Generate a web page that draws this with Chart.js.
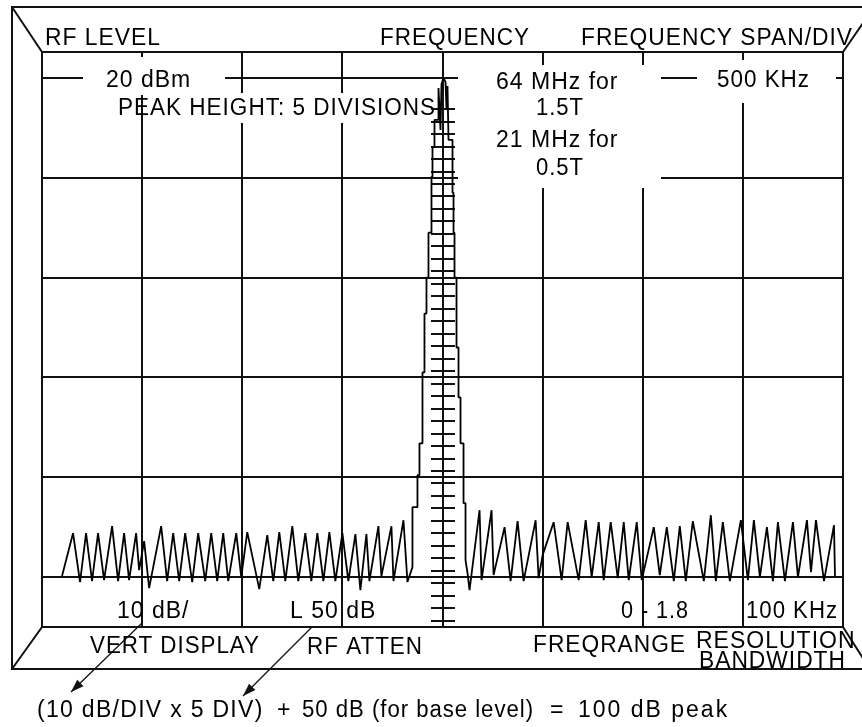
<!DOCTYPE html>
<html>
<head>
<meta charset="utf-8">
<title>Spectrum analyzer display</title>
<script src="https://cdn.jsdelivr.net/npm/chart.js@4.4.1/dist/chart.umd.min.js"></script>
<style>
    html, body { margin: 0; padding: 0; background: #fff; }
    #wrap { width: 862px; height: 727px; }
</style>
</head>
<body>
<div id="wrap"><canvas id="spectrum" width="862" height="727"></canvas></div>
<script>
// Trace: [offset from centre in kHz (500 kHz/div), level above base in dB (10 dB/div)]
const leftNoise = [
    [-1900, 0.1], [-1845, 4.4], [-1810, -0.5], [-1780, 4.4], [-1750, -0.4], [-1720, 4.4], [-1690, -0.3],
    [-1650, 5.1], [-1620, -0.4], [-1590, 4.4], [-1565, -0.3], [-1530, 4.4], [-1515, 0.7], [-1490, 3.6],
    [-1465, -1.1], [-1405, 5.1], [-1375, -0.4], [-1345, 4.4], [-1315, -0.4], [-1285, 4.4], [-1250, -0.5],
    [-1220, 4.4], [-1185, -0.4], [-1155, 4.4], [-1125, -0.4], [-1095, 4.4], [-1070, -0.4], [-1030, 4.4],
    [-1005, 0], [-975, 4.5], [-915, -1.2], [-875, 4.2], [-845, -0.4], [-815, 4.5], [-785, -0.4],
    [-750, 5.1], [-720, -0.4], [-685, 4.4], [-655, -0.4], [-625, 4.4], [-595, -0.4], [-565, 4.5],
    [-535, -0.4], [-500, 4.4], [-470, -0.4], [-435, 4.3], [-410, -1.3], [-380, 4.3], [-365, -0.4],
    [-320, 5.1], [-305, 0.1], [-255, 5.1], [-245, -0.4], [-195, 5.7], [-175, -0.5], [-150, 1.0]
];
const carrierPeak = [
    [-150, 7.0], [-125, 7.0], [-125, 10.2], [-115, 10.2], [-115, 13.4], [-100, 13.4], [-100, 20.5],
    [-90, 20.5], [-90, 26.4], [-80, 26.4], [-80, 30.0], [-70, 30.0], [-70, 34.5], [-55, 34.5],
    [-55, 40.1], [-50, 40.1], [-50, 43.1], [-40, 43.1], [-40, 45.8], [-20, 45.8], [-20, 49.0],
    [-10, 44.8], [-5, 49.4], [5, 50.0], [15, 49.6], [20, 46.8], [25, 49.2], [30, 43.8], [50, 43.8],
    [50, 38.5], [55, 38.5], [55, 34.5], [60, 34.5], [60, 30.0], [70, 30.0], [70, 23.0], [80, 23.0],
    [80, 18.0], [90, 18.0], [90, 13.4], [105, 13.4], [105, 7.4], [115, 7.4], [115, 1.7], [125, 0.4],
    [135, -1.3]
];
const rightNoise = [
    [185, 6.7], [195, -0.3], [245, 6.7], [255, 0.2], [310, 5.0], [340, -0.4], [375, 5.6], [405, -0.4],
    [465, 5.7], [480, -0.1], [500, 2.2], [555, 5.5], [595, -0.3], [625, 5.5], [680, -0.3], [715, 5.7],
    [745, 0], [780, 5.5], [805, -0.3], [840, 5.5], [875, -0.1], [905, 5.5], [930, -0.3], [970, 5.5],
    [995, -0.3], [1055, 5.0], [1085, 0.2], [1120, 5.0], [1155, -0.4], [1185, 5.1], [1215, -0.4],
    [1250, 5.6], [1305, -0.4], [1340, 6.2], [1365, -0.4], [1400, 5.5], [1435, -0.4], [1490, 5.7],
    [1525, -0.3], [1555, 5.7], [1585, 0], [1620, 5.0], [1650, -0.4], [1675, 5.5], [1710, -0.4],
    [1750, 5.5], [1775, 0], [1820, 5.7], [1840, 0.5], [1865, 5.7], [1905, -0.4], [1955, 5.2], [1960, 0]
];

// graticule: 8 horizontal divisions, 5 vertical divisions from base line to reference line
const freqTicks = [-2000, -1500, -1000, -500, 0, 500, 1000, 1500, 2000];
const levelTicks = [-5, 0, 10, 20, 30, 40, 50, 52.6];

const ink = '#111';
const font = '23px "Liberation Sans", Arial, sans-serif';

// white patches where the screen text breaks the graticule lines
const maskBoxes = [
    [83, 57, 142, 38],
    [146, 93, 292, 30],
    [458, 65, 203, 123],
    [697, 60, 139, 43]
];

// [text, x, baseline, max width, letter spacing]
const screenLabels = [
    ['RF LEVEL', 45, 45, 116, 1],
    ['FREQUENCY', 380, 45, 150, 1],
    ['FREQUENCY SPAN/DIV', 581, 45, 272, 1],
    ['20 dBm', 106, 87, 90, 1],
    ['PEAK HEIGHT: 5 DIVISIONS', 118, 115, 318, 1],
    ['64 MHz for', 496, 89, 124, 1],
    ['1.5T', 536, 115, 48, 1],
    ['21 MHz for', 496, 147, 124, 1],
    ['0.5T', 536, 175, 48, 1],
    ['500 KHz', 717, 87, 93, 1],
    ['10 dB/', 117, 618, 73, 1],
    ['L 50 dB', 290, 618, 90, 1],
    ['0 - 1.8', 621, 618, 68, 1],
    ['100 KHz', 746, 618, 92, 1],
    ['VERT DISPLAY', 90, 653, 170, 1],
    ['RF ATTEN', 307, 654, 116, 1],
    ['FREQRANGE', 533, 652, 153, 1],
    ['RESOLUTION', 696, 648, 160, 1],
    ['BANDWIDTH', 699, 668, 147, 1],
    ['(10 dB/DIV x 5 DIV)', 37, 717, 227, 1.3],
    ['+', 277, 717, 14, 0],
    ['50 dB (for base level)', 302, 717, 232, 1],
    ['=', 550, 717, 16, 0],
    ['100 dB peak', 578, 717, 176, 2]
];

function drawArrow(ctx, x1, y1, x2, y2) {
    ctx.beginPath();
    ctx.moveTo(x1, y1);
    ctx.lineTo(x2, y2);
    ctx.stroke();
    const a = Math.atan2(y2 - y1, x2 - x1);
    const len = 13, half = 4.5;
    ctx.beginPath();
    ctx.moveTo(x2, y2);
    ctx.lineTo(x2 - len * Math.cos(a) + half * Math.sin(a), y2 - len * Math.sin(a) - half * Math.cos(a));
    ctx.lineTo(x2 - len * Math.cos(a) - half * Math.sin(a), y2 - len * Math.sin(a) + half * Math.cos(a));
    ctx.closePath();
    ctx.fill();
}

const analyzerFace = {
    id: 'analyzerFace',
    beforeDatasetsDraw(chart) {
        const { ctx } = chart;
        const xs = chart.scales.x, ys = chart.scales.y;
        ctx.save();
        ctx.fillStyle = '#fff';
        maskBoxes.forEach(([x, y, w, h]) => ctx.fillRect(x, y, w, h));

        // minor ticks on the centre line
        const cx = Math.round(xs.getPixelForValue(0));
        ctx.strokeStyle = ink;
        ctx.lineWidth = 2;
        ctx.beginPath();
        for (let v = -4.375; v < 47.5; v += 1.25) {
            const py = Math.round(ys.getPixelForValue(v));
            ctx.moveTo(cx - 12, py);
            ctx.lineTo(cx + 12, py);
        }
        ctx.stroke();
        ctx.restore();
    },
    afterDraw(chart) {
        const { ctx, chartArea: ca } = chart;
        ctx.save();
        ctx.strokeStyle = ink;
        ctx.fillStyle = ink;
        ctx.lineWidth = 2;

        // outer bezel and corner bevels
        const oL = 12, oT = 7, oR = 874, oB = 669;
        ctx.beginPath();
        ctx.moveTo(oR, oT); ctx.lineTo(oL, oT); ctx.lineTo(oL, oB); ctx.lineTo(oR, oB);
        ctx.moveTo(oL, oT); ctx.lineTo(ca.left, ca.top);
        ctx.moveTo(oL, oB); ctx.lineTo(ca.left, ca.bottom);
        ctx.moveTo(oR, oT); ctx.lineTo(ca.right, ca.top);
        ctx.moveTo(oR - 4, oB); ctx.lineTo(ca.right, ca.bottom);
        ctx.stroke();

        // pointers from the control settings to the formula
        ctx.lineWidth = 1.3;
        drawArrow(ctx, 142, 623, 71, 692);
        drawArrow(ctx, 312, 627, 243, 696);

        ctx.font = font;
        ctx.fillStyle = '#000';
        ctx.textBaseline = 'alphabetic';
        ctx.textAlign = 'left';
        screenLabels.forEach(([t, x, y, w, ls]) => {
            ctx.letterSpacing = ls + 'px';
            ctx.fillText(t, x, y, w);
        });
        ctx.restore();
    }
};

const trace = leftNoise.concat(carrierPeak, rightNoise);

new Chart(document.getElementById('spectrum'), {
    type: 'line',
    data: {
        datasets: [{
            label: 'RF trace',
            data: trace.map(([f, l]) => ({ x: f, y: l })),
            borderColor: '#000',
            borderWidth: 1.8,
            borderJoinStyle: 'bevel',
            pointRadius: 0,
            tension: 0,
            fill: false
        }]
    },
    options: {
        responsive: false,
        animation: false,
        devicePixelRatio: 1,
        layout: { padding: { left: 42, top: 52, right: 19, bottom: 100 } },
        plugins: {
            legend: { display: false },
            tooltip: { enabled: false },
            title: { display: false }
        },
        scales: {
            x: {
                type: 'linear',
                min: -2000,
                max: 2000,
                afterBuildTicks: s => { s.ticks = freqTicks.map(v => ({ value: v })); },
                afterFit: s => { s.height = 0; },
                grid: { color: ink, lineWidth: 2, drawTicks: false },
                border: { display: false },
                ticks: { display: false }
            },
            y: {
                type: 'linear',
                min: -5,
                max: 52.6,
                afterBuildTicks: s => { s.ticks = levelTicks.map(v => ({ value: v })); },
                afterFit: s => { s.width = 0; },
                grid: { color: ink, lineWidth: 2, drawTicks: false },
                border: { display: false },
                ticks: { display: false }
            }
        }
    },
    plugins: [analyzerFace]
});
</script>
</body>
</html>
